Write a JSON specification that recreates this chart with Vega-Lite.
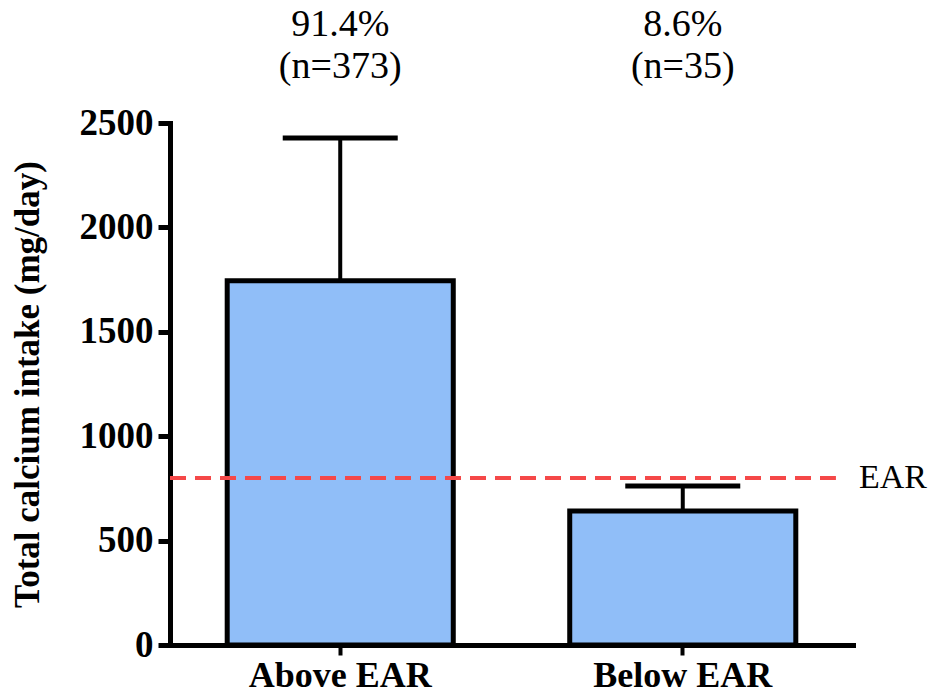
{
  "$schema": "https://vega.github.io/schema/vega-lite/v6.json",
  "width": 683,
  "height": 522,
  "autosize": "none",
  "padding": {"left": 170, "top": 123, "right": 79, "bottom": 53},
  "background": "white",
  "config": {"view": {"stroke": null}, "font": "Liberation Serif"},
  "layer": [
    {
      "data": {"values": [
        {"group": "Above EAR", "mean": 1745, "upper": 2428, "pct": "91.4%", "n": "(n=373)"},
        {"group": "Below EAR", "mean": 642, "upper": 761, "pct": "8.6%", "n": "(n=35)"}
      ]},
      "encoding": {
        "x": {
          "field": "group", "type": "nominal", "sort": null,
          "scale": {"paddingInner": 0.34, "paddingOuter": 0.167},
          "axis": {
            "title": null, "labelAngle": 0, "labelFont": "Liberation Serif", "labelFontSize": 36,
            "labelFontWeight": "bold", "labelColor": "black", "labelPadding": 3, "labelLimit": 0,
            "tickSize": 10, "tickWidth": 4, "tickColor": "black",
            "domainWidth": 5, "domainColor": "black", "domainCap": "square"
          }
        }
      },
      "layer": [
        {
          "mark": {"type": "rule", "color": "black", "strokeWidth": 4},
          "encoding": {
            "y": {
              "field": "mean", "type": "quantitative",
              "scale": {"domain": [0, 2500], "nice": false, "zero": true},
              "axis": {
                "title": "Total calcium intake (mg/day)", "titleFont": "Liberation Serif",
                "titleFontSize": 35, "titleFontWeight": "bold", "titleColor": "black", "titlePadding": 34,
                "values": [0, 500, 1000, 1500, 2000, 2500], "format": "d", "grid": false,
                "labelFont": "Liberation Serif", "labelFontSize": 37, "labelFontWeight": "bold",
                "labelColor": "black", "labelPadding": 5,
                "tickSize": 12, "tickWidth": 5, "tickColor": "black",
                "domainWidth": 5, "domainColor": "black", "domainCap": "square"
              }
            },
            "y2": {"field": "upper"}
          }
        },
        {
          "mark": {"type": "tick", "color": "black", "opacity": 1, "thickness": 5, "size": 115},
          "encoding": {"y": {"field": "upper", "type": "quantitative"}}
        },
        {
          "mark": {"type": "bar", "fill": "#90BEF8", "stroke": "black", "strokeWidth": 5, "strokeJoin": "miter", "opacity": 1},
          "encoding": {"y": {"field": "mean", "type": "quantitative"}}
        },
        {
          "mark": {"type": "text", "font": "Liberation Serif", "fontSize": 38, "dy": -87, "baseline": "alphabetic", "color": "black"},
          "encoding": {"y": {"datum": 2500}, "text": {"field": "pct"}}
        },
        {
          "mark": {"type": "text", "font": "Liberation Serif", "fontSize": 38, "dy": -45, "baseline": "alphabetic", "color": "black"},
          "encoding": {"y": {"datum": 2500}, "text": {"field": "n"}}
        }
      ]
    },
    {
      "data": {"values": [{"ear": 800, "label": "EAR"}]},
      "layer": [
        {
          "mark": {"type": "rule", "color": "#F54848", "strokeWidth": 4, "strokeDash": [16, 9]},
          "encoding": {
            "x": {"datum": 0, "type": "quantitative", "scale": {"domain": [0, 1]}, "axis": null},
            "x2": {"datum": 0.975},
            "y": {"field": "ear", "type": "quantitative"}
          }
        },
        {
          "mark": {"type": "text", "font": "Liberation Serif", "align": "left", "baseline": "middle", "dx": 6, "fontSize": 34, "color": "black"},
          "encoding": {
            "x": {"datum": 1, "type": "quantitative", "scale": {"domain": [0, 1]}, "axis": null},
            "y": {"field": "ear", "type": "quantitative"},
            "text": {"field": "label"}
          }
        }
      ]
    }
  ],
  "resolve": {"scale": {"x": "independent"}}
}
